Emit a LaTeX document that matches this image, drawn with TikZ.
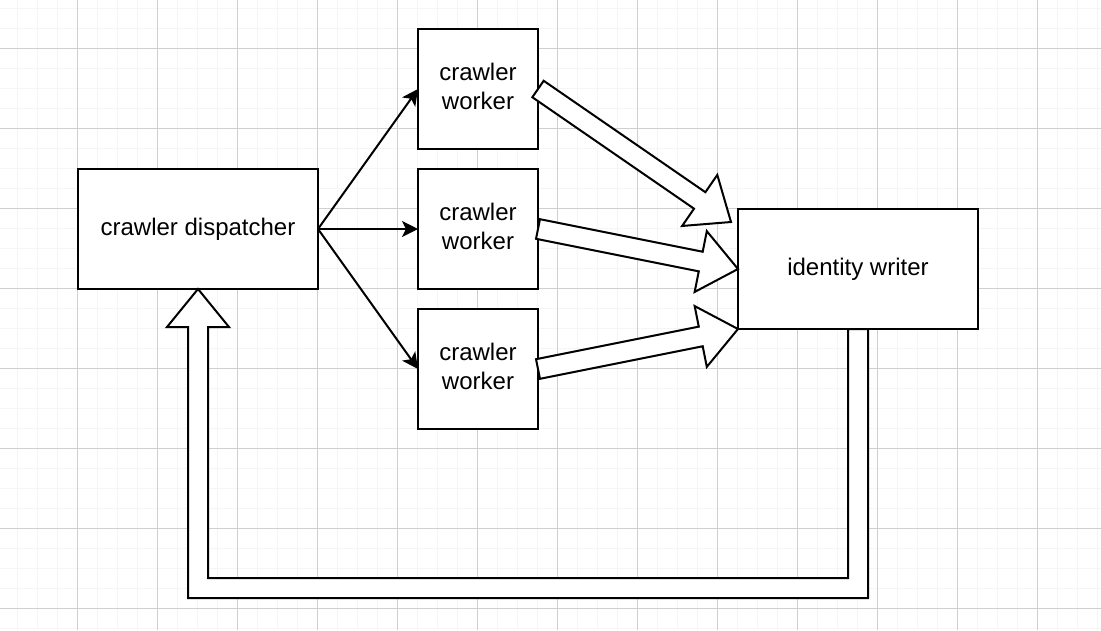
\documentclass[tikz,border=0pt]{standalone}
\usepackage{fontspec}
\setmainfont{Liberation Sans}
\usetikzlibrary{arrows.meta,calc}
\begin{document}
\begin{tikzpicture}[x=1pt,y=-1pt,
  minorgrid/.style={draw=black!4,line width=1pt},
  majorgrid/.style={draw=black!19,line width=1pt},
  box/.style={draw=black,fill=white,line width=2pt,outer sep=0pt,inner sep=0pt,
    align=center,font=\fontsize{24}{28.8}\selectfont},
  thinarrow/.style={draw=black,line width=2pt,-{Stealth[length=16pt,width=16pt,inset=4pt]}},
  flexline/.style={draw=black,fill=white,line width=2pt,line join=miter}]
\useasboundingbox[fill=white] (0,0) rectangle (1101,630);
% grid
\foreach \x in {17,37,...,1097} \draw[minorgrid] (\x,0) -- (\x,630);
\foreach \y in {8,28,...,628} \draw[minorgrid] (0,\y) -- (1101,\y);
\foreach \x in {77,157,...,1037} \draw[majorgrid] (\x,0) -- (\x,630);
\foreach \y in {48,128,...,608} \draw[majorgrid] (0,\y) -- (1101,\y);
% nodes
\node[box,minimum width=240pt,minimum height=120pt] (disp) at (198,229) {crawler dispatcher};
\node[box,minimum width=120pt,minimum height=120pt] (w1) at (478,89) {crawler\\worker\rule[-6pt]{0pt}{0pt}};
\node[box,minimum width=120pt,minimum height=120pt] (w2) at (478,229) {crawler\\worker\rule[-6pt]{0pt}{0pt}};
\node[box,minimum width=120pt,minimum height=120pt] (w3) at (478,369) {crawler\\worker\rule[-6pt]{0pt}{0pt}};
\node[box,minimum width=240pt,minimum height=120pt] (iw) at (858,269) {identity writer};
% flex arrows
\newcommand\flexarr[2]{%
  \coordinate (fab) at ($(#2)!38pt!(#1)$);
  \draw[flexline] ($(#1)!10pt!90:(#2)$) -- ($(fab)!10pt!90:(#2)$) -- ($(fab)!31pt!90:(#2)$)
    -- (#2) -- ($(fab)!31pt!-90:(#2)$) -- ($(fab)!10pt!-90:(#2)$) -- ($(#1)!10pt!-90:(#2)$) -- cycle;}
\coordinate (tA) at ($(iw.north west)+(-7,13)$);
\flexarr{w1.east}{tA}
\flexarr{w2.east}{iw.west}
\flexarr{w3.east}{iw.south west}
% return arrow
\draw[flexline] ($(iw.south)+(10,0)$) -- ($(iw.south)+(10,269)$)
  -- ($(disp.south)+(-10,309)$) -- ($(disp.south)+(-10,38)$) -- ($(disp.south)+(-31,38)$)
  -- (disp.south) -- ($(disp.south)+(31,38)$) -- ($(disp.south)+(10,38)$)
  -- ($(disp.south)+(10,289)$) -- ($(iw.south)+(-10,249)$) -- ($(iw.south)+(-10,0)$) -- cycle;
% thin arrows
\draw[thinarrow] (disp.east) -- (w1.west);
\draw[thinarrow] (disp.east) -- (w2.west);
\draw[thinarrow] (disp.east) -- (w3.west);
\end{tikzpicture}
\end{document}
